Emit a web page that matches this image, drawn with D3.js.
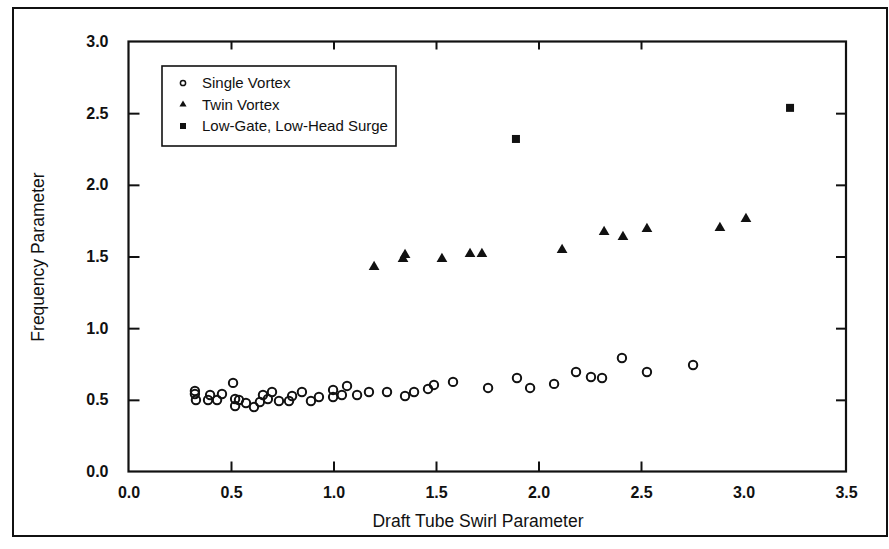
<!DOCTYPE html>
<html>
<head>
<meta charset="utf-8">
<script src="https://cdn.jsdelivr.net/npm/d3@7"></script>
<style>
  body { margin:0; background:#fff; }
  svg text { font-family: "Liberation Sans", Arial, Helvetica, sans-serif; fill:#111; }
  .axis text { font-size:16px; font-weight:bold; }
  .axis line { stroke:#111; stroke-width:2; }
  .axis path { display:none; }
</style>
</head>
<body>
<svg id="chart" width="889" height="549"></svg>
<script>
// values
const singleX = [0.324,0.324,0.329,0.388,0.398,0.432,0.456,0.510,0.520,0.520,0.539,0.573,0.612,0.641,0.656,0.680,0.700,0.734,0.783,0.798,0.846,0.890,0.929,0.998,0.998,1.041,1.066,1.115,1.173,1.261,1.349,1.393,1.461,1.490,1.583,1.754,1.895,1.959,2.076,2.183,2.256,2.310,2.407,2.529,2.754];
const singleY = [0.562,0.541,0.499,0.499,0.534,0.499,0.541,0.618,0.506,0.457,0.499,0.478,0.450,0.485,0.534,0.506,0.555,0.492,0.492,0.527,0.555,0.492,0.520,0.569,0.520,0.534,0.597,0.534,0.555,0.555,0.527,0.555,0.576,0.604,0.625,0.583,0.652,0.583,0.611,0.694,0.659,0.652,0.792,0.694,0.743];
const twinX = [1.198,1.339,1.349,1.529,1.666,1.724,2.115,2.320,2.412,2.529,2.885,3.012];
const twinY = [1.427,1.483,1.511,1.483,1.518,1.518,1.546,1.671,1.636,1.692,1.699,1.762];
const surgeX = [1.890,3.227];
const surgeY = [2.320,2.537];
const xTicks = [0,0.5,1.0,1.5,2.0,2.5,3.0,3.5];
const yTicks = [0,0.5,1.0,1.5,2.0,2.5,3.0];
const legendNames = ["Single Vortex","Twin Vortex","Low-Gate, Low-Head Surge"];

const svg = d3.select("#chart");
const plot = {left:128.5, top:41.5, right:846, bottom:471.5};

const xScale = d3.scaleLinear().domain([0,3.5]).range([plot.left,plot.right]);
const yScale = d3.scaleLinear().domain([0,3.0]).range([plot.bottom,plot.top]);
const fmt = d3.format(".1f");

// scanned page border
svg.append("rect")
    .attr("x",13).attr("y",8)
    .attr("width",874).attr("height",528)
    .attr("fill","none").attr("stroke","#111").attr("stroke-width",2)

// axes, ticks point inward on every side
svg.append("g").attr("class","axis")
    .attr("transform","translate(0,"+plot.bottom+")")
    .call(d3.axisBottom(xScale).tickValues(xTicks).tickFormat(fmt)
        .tickSizeInner(-10).tickSizeOuter(0).tickPadding(15))
svg.append("g").attr("class","axis")
    .attr("transform","translate(0,"+plot.top+")")
    .call(d3.axisTop(xScale).tickValues(xTicks).tickFormat("")
        .tickSizeInner(-8).tickSizeOuter(0))
svg.append("g").attr("class","axis")
    .attr("transform","translate("+plot.left+",0)")
    .call(d3.axisLeft(yScale).tickValues(yTicks).tickFormat(fmt)
        .tickSizeInner(-11).tickSizeOuter(0).tickPadding(20))
svg.append("g").attr("class","axis")
    .attr("transform","translate("+plot.right+",0)")
    .call(d3.axisRight(yScale).tickValues(yTicks).tickFormat("")
        .tickSizeInner(-10).tickSizeOuter(0))

// drop the end ticks that sit on the frame
svg.selectAll(".axis .tick line").filter((d)=> d===0 || d===3.5 || d===3.0).remove()

svg.append("rect")
    .attr("x",plot.left).attr("y",plot.top)
    .attr("width",plot.right-plot.left).attr("height",plot.bottom-plot.top)
    .attr("fill","none").attr("stroke","#111").attr("stroke-width",2.2)

// axis titles
svg.append("text")
    .attr("x",478).attr("y",527)
    .attr("text-anchor","middle")
    .style("font-size","17.5px")
    .text("Draft Tube Swirl Parameter")
svg.append("text")
    .attr("transform","translate(44,257) rotate(-90)")
    .attr("text-anchor","middle")
    .style("font-size","17.5px")
    .text("Frequency Parameter")

// points
const single = singleX.map((x,i)=> ({x:x, y:singleY[i]}));
const twin = twinX.map((x,i)=> ({x:x, y:twinY[i]}));
const surge = surgeX.map((x,i)=> ({x:x, y:surgeY[i]}));

svg.append("g").selectAll("circle")
    .data(single)
    .enter()
    .append("circle")
    .attr("cx",(d)=> xScale(d.x))
    .attr("cy",(d)=> yScale(d.y))
    .attr("r",4.2)
    .attr("fill","none")
    .attr("stroke","#111")
    .attr("stroke-width",2)

const tri = d3.symbol().type(d3.symbolTriangle).size(50);
svg.append("g").selectAll("path")
    .data(twin)
    .enter()
    .append("path")
    .attr("d",tri)
    .attr("transform",(d)=> "translate("+xScale(d.x)+","+yScale(d.y)+")")
    .attr("fill","#111")

svg.append("g").selectAll("rect")
    .data(surge)
    .enter()
    .append("rect")
    .attr("x",(d)=> xScale(d.x)-4)
    .attr("y",(d)=> yScale(d.y)-4)
    .attr("width",8).attr("height",8)
    .attr("fill","#111")

// legend
const legend = svg.append("g").attr("transform","translate(162,66)");
legend.append("rect")
    .attr("width",234).attr("height",80)
    .attr("fill","#fff").attr("stroke","#111").attr("stroke-width",1.6)

const rows = legend.selectAll(".row")
    .data(legendNames)
    .enter()
    .append("g")
    .attr("class","row")
    .attr("transform",(d,i)=> "translate(0,"+(17+i*21.5)+")")

rows.append("text")
    .attr("x",40).attr("y",5)
    .style("font-size","15px")
    .text((d)=> d)

rows.filter((d,i)=> i===0).append("circle")
    .attr("cx",21).attr("r",2.6)
    .attr("fill","none").attr("stroke","#111").attr("stroke-width",1.5)
rows.filter((d,i)=> i===1).append("path")
    .attr("d",d3.symbol().type(d3.symbolTriangle).size(22))
    .attr("transform","translate(21,0)")
    .attr("fill","#111")
rows.filter((d,i)=> i===2).append("rect")
    .attr("x",18).attr("y",-3).attr("width",6).attr("height",6)
    .attr("fill","#111")
</script>
</body>
</html>
